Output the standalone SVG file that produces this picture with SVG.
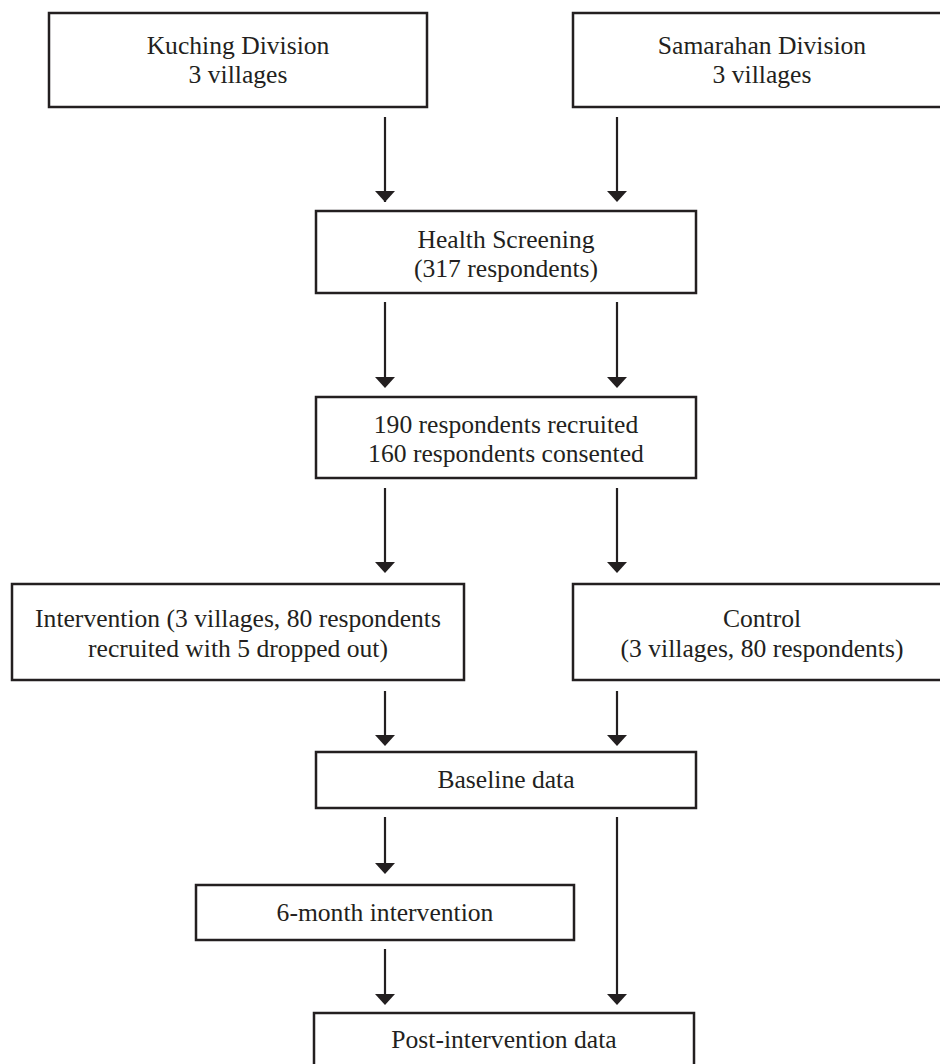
<svg xmlns="http://www.w3.org/2000/svg" width="940" height="1064" viewBox="0 0 940 1064">
<defs>
<style>
.box{fill:#fff;stroke:#231f20;stroke-width:2.5}
.t{font-family:"Liberation Serif","Times New Roman",serif;font-size:25.6px;fill:#231f20;text-anchor:middle}
.c{stroke:#231f20;stroke-width:2.2;fill:none;marker-end:url(#ah)}
</style>
<marker id="ah" viewBox="0 0 20 11" refX="10" refY="11" markerWidth="20" markerHeight="11" markerUnits="userSpaceOnUse" orient="auto-start-reverse">
<path d="M0,0 L20,0 L10,11 Z" fill="#231f20"/>
</marker>
</defs>
<rect width="940" height="1064" fill="#fff"/>
<g id="connectors">
<line class="c" x1="385" y1="117" x2="385" y2="202" style="marker-end:none"/>
<path d="M375,191 L395,191 L385,202 Z" fill="#231f20"/>
<line class="c" x1="617" y1="117" x2="617" y2="192" style="marker-end:none"/>
<path d="M607,191 L627,191 L617,202 Z" fill="#231f20"/>
<line class="c" x1="385" y1="302" x2="385" y2="378" style="marker-end:none"/>
<path d="M375,377 L395,377 L385,388 Z" fill="#231f20"/>
<line class="c" x1="617" y1="302" x2="617" y2="378" style="marker-end:none"/>
<path d="M607,377 L627,377 L617,388 Z" fill="#231f20"/>
<line class="c" x1="385" y1="488" x2="385" y2="563" style="marker-end:none"/>
<path d="M375,562 L395,562 L385,573 Z" fill="#231f20"/>
<line class="c" x1="617" y1="488" x2="617" y2="563" style="marker-end:none"/>
<path d="M607,562 L627,562 L617,573 Z" fill="#231f20"/>
<line class="c" x1="385" y1="691" x2="385" y2="736" style="marker-end:none"/>
<path d="M375,735 L395,735 L385,746 Z" fill="#231f20"/>
<line class="c" x1="617" y1="691" x2="617" y2="736" style="marker-end:none"/>
<path d="M607,735 L627,735 L617,746 Z" fill="#231f20"/>
<line class="c" x1="385" y1="817" x2="385" y2="864" style="marker-end:none"/>
<path d="M375,863 L395,863 L385,874 Z" fill="#231f20"/>
<line class="c" x1="617" y1="817" x2="617" y2="995" style="marker-end:none"/>
<path d="M607,994 L627,994 L617,1005 Z" fill="#231f20"/>
<line class="c" x1="385" y1="949" x2="385" y2="995" style="marker-end:none"/>
<path d="M375,994 L395,994 L385,1005 Z" fill="#231f20"/>
</g>
<g id="kuching">
<rect class="box" x="49" y="13" width="378" height="94"/>
<text class="t" x="238" y="54">Kuching Division</text>
<text class="t" x="238" y="83">3 villages</text>
</g>
<g id="samarahan">
<rect class="box" x="573" y="13" width="378" height="94"/>
<text class="t" x="762" y="54">Samarahan Division</text>
<text class="t" x="762" y="83">3 villages</text>
</g>
<g id="screening">
<rect class="box" x="316" y="211" width="380" height="82"/>
<text class="t" x="506" y="248">Health Screening</text>
<text class="t" x="506" y="277">(317 respondents)</text>
</g>
<g id="recruited">
<rect class="box" x="316" y="397" width="380" height="81"/>
<text class="t" x="506" y="433">190 respondents recruited</text>
<text class="t" x="506" y="462">160 respondents consented</text>
</g>
<g id="intervention">
<rect class="box" x="12" y="584" width="452" height="96"/>
<text class="t" x="238" y="627">Intervention (3 villages, 80 respondents</text>
<text class="t" x="238" y="657">recruited with 5 dropped out)</text>
</g>
<g id="control">
<rect class="box" x="573" y="584" width="378" height="96"/>
<text class="t" x="762" y="627">Control</text>
<text class="t" x="762" y="657">(3 villages, 80 respondents)</text>
</g>
<g id="baseline">
<rect class="box" x="316" y="752" width="380" height="56"/>
<text class="t" x="506" y="788">Baseline data</text>
</g>
<g id="sixmonth">
<rect class="box" x="196" y="885" width="378" height="55"/>
<text class="t" x="385" y="921">6-month intervention</text>
</g>
<g id="post">
<rect class="box" x="314" y="1013" width="380" height="70"/>
<text class="t" x="504" y="1048">Post-intervention data</text>
</g>
</svg>
